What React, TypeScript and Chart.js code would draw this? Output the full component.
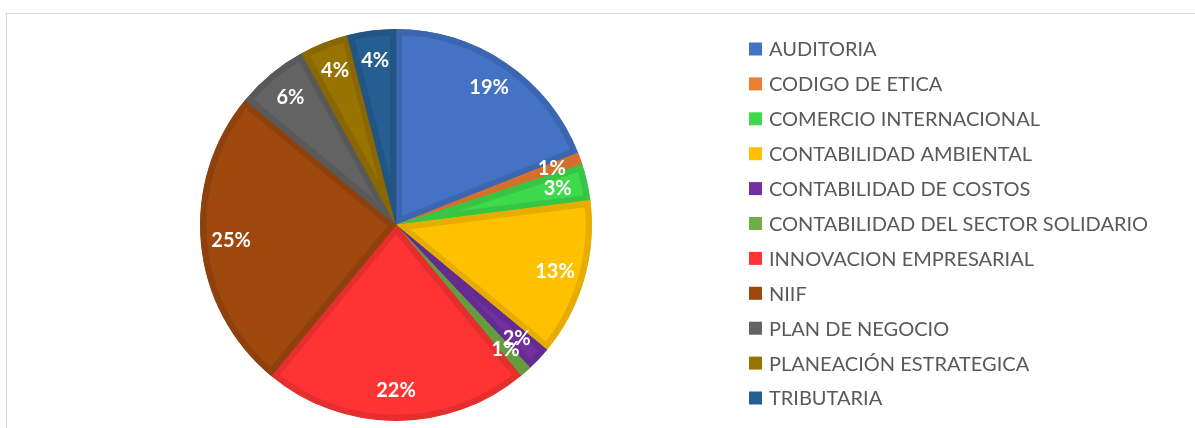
import React, { useEffect, useRef } from "react";
import { Chart, registerables } from "chart.js";

Chart.register(...registerables);

const categories = [
  "AUDITORIA",
  "CODIGO DE ETICA",
  "COMERCIO INTERNACIONAL",
  "CONTABILIDAD AMBIENTAL",
  "CONTABILIDAD DE COSTOS",
  "CONTABILIDAD DEL SECTOR SOLIDARIO",
  "INNOVACION EMPRESARIAL",
  "NIIF",
  "PLAN DE NEGOCIO",
  "PLANEACIÓN ESTRATEGICA",
  "TRIBUTARIA",
];

const shares = [19, 1, 3, 13, 2, 1, 22, 25, 6, 4, 4];

const fillColors = [
  "#4472C4",
  "#ED7D31",
  "#3DDB4C",
  "#FFC000",
  "#7030A0",
  "#70AD47",
  "#FF3333",
  "#9E480E",
  "#636363",
  "#997300",
  "#255E91",
];

const edgeColors = [
  "#3D66B0",
  "#D5702C",
  "#37C545",
  "#E6AD00",
  "#652B90",
  "#659C40",
  "#E52E2E",
  "#8E410D",
  "#595959",
  "#8A6700",
  "#215583",
];

const sliceLabels = {
  id: "sliceLabels",
  afterDatasetsDraw(chart: any) {
    const ctx = chart.ctx;
    const meta = chart.getDatasetMeta(0);
    const data = chart.data.datasets[0].data as number[];
    const total = data.reduce((a, b) => a + b, 0);
    ctx.save();
    ctx.font = "bold 20px Lato";
    ctx.fillStyle = "#FFFFFF";
    ctx.textAlign = "center";
    ctx.textBaseline = "middle";
    meta.data.forEach((arc: any, i: number) => {
      const p = arc.getProps(["x", "y", "startAngle", "endAngle", "outerRadius"], true);
      const mid = (p.startAngle + p.endAngle) / 2;
      const r = p.outerRadius * 0.845;
      const tx = p.x + Math.cos(mid) * r;
      const ty = p.y + Math.sin(mid) * r;
      ctx.fillText(Math.round((data[i] / total) * 100) + "%", tx, ty);
    });
    ctx.restore();
  },
};

const sideLegend = {
  id: "sideLegend",
  afterDraw(chart: any) {
    const ctx = chart.ctx;
    const labels = chart.data.labels as string[];
    const colors = chart.data.datasets[0].backgroundColor as string[];
    ctx.save();
    ctx.font = "20px Lato";
    ctx.textBaseline = "middle";
    ctx.textAlign = "left";
    labels.forEach((lab, i) => {
      const cy = 49 + i * 34.9;
      ctx.fillStyle = colors[i];
      ctx.fillRect(749, cy - 6.5, 13, 13);
      ctx.fillStyle = "#595959";
      ctx.fillText(lab, 769, cy + 1);
    });
    ctx.restore();
  },
};

export default function App() {
  const ref = useRef<HTMLCanvasElement | null>(null);
  useEffect(() => {
    if (!ref.current) return;
    const chart = new Chart(ref.current, {
      type: "pie",
      data: {
        labels: categories,
        datasets: [
          {
            data: shares,
            backgroundColor: fillColors,
            borderColor: edgeColors,
            borderWidth: 6,
            borderAlign: "inner",
          } as any,
        ],
      },
      options: {
        animation: false,
        responsive: false,
        devicePixelRatio: 1,
        layout: { padding: { left: 200, right: 603, top: 29, bottom: 7 } },
        plugins: {
          legend: { display: false },
          tooltip: { enabled: false },
        },
      },
      plugins: [sliceLabels, sideLegend],
    });
    return () => chart.destroy();
  }, []);
  return (
    <div style={{ position: "absolute", left: 0, top: 0, width: 1195, height: 428, overflow: "hidden", background: "#fff" }}>
      <div
        style={{
          position: "absolute",
          left: 6,
          top: 13,
          width: 1400,
          height: 600,
          border: "1px solid #d9d9d9",
          boxSizing: "border-box",
        }}
      />
      <canvas ref={ref} width={1195} height={428} style={{ position: "absolute", left: 0, top: 0 }} />
    </div>
  );
}
